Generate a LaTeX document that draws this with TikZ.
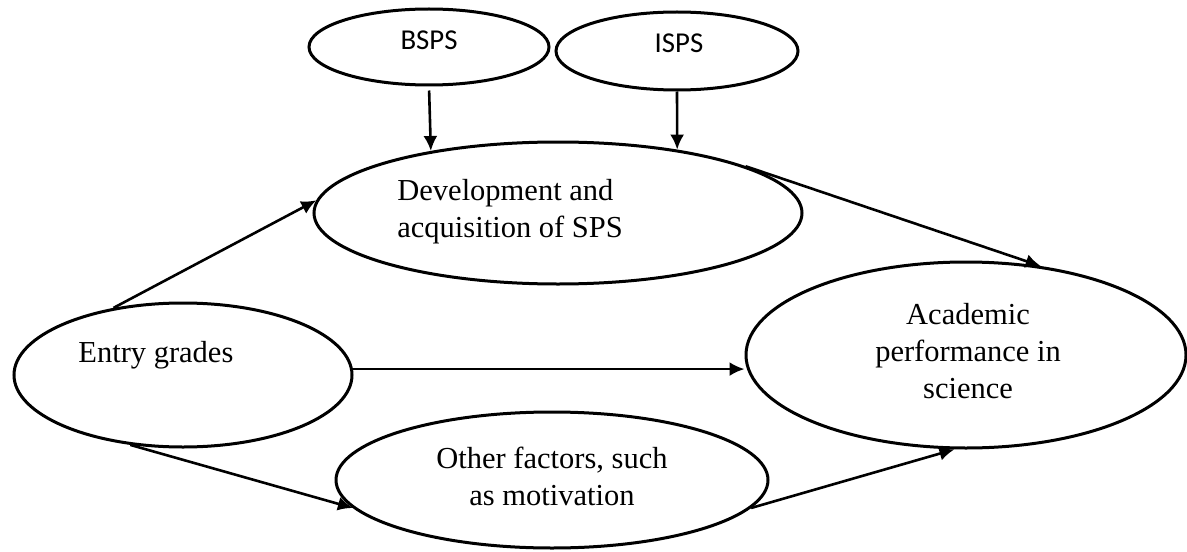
\documentclass[tikz,border=0pt]{standalone}
\usepackage{fontspec}
\setmainfont{Liberation Serif}
\newfontfamily\boxfont{Carlito}
\usetikzlibrary{shapes.geometric,arrows.meta}
\begin{document}
\begin{tikzpicture}
			[
				x                 = 0.5pt,
				y                 = -0.5pt,
				blob/.style       = {draw, ellipse, line width=1.5pt, inner sep=0pt},
				link/.style       = {draw, line width=1.3pt, -{Latex[length=7.5pt,width=7pt]}},
				txt/.style        = {inner sep=0pt, font=\fontsize{15.25}{18.5}\selectfont},
				smalltxt/.style   = {inner sep=0pt, font=\boxfont\fontsize{14.4}{17}\selectfont}
			]
			\useasboundingbox (0,0) rectangle (1187,551);
			% ellipses
			\node [blob, minimum width=120pt, minimum height=38pt] (bsps)  at (429,47)  {};
			\node [blob, minimum width=121pt, minimum height=39pt] (isps)  at (677,51)  {};
			\node [blob, minimum width=244pt, minimum height=71pt] (dev)   at (558,213) {};
			\node [blob, minimum width=169pt, minimum height=72pt] (entry) at (183,375) {};
			\node [blob, minimum width=220pt, minimum height=93pt] (acad)  at (966,355) {};
			\node [blob, minimum width=216pt, minimum height=68pt] (other) at (552,480) {};
			% texts (base = last line)
			\node [smalltxt, anchor=base] (bspstxt) at (429,50) {BSPS};
			\node [smalltxt, anchor=base] (ispstxt) at (679,53) {ISPS};
			\node [txt, anchor=base west, align=left] (devtxt) at (397,237)
				{Development and\\acquisition of SPS};
			\node [txt, anchor=base west] (entrytxt) at (78,362) {Entry grades};
			\node [txt, anchor=base, align=center] (acadtxt) at (968,398)
				{Academic\\performance in\\science};
			\node [txt, anchor=base, align=center] (othertxt) at (552,505)
				{Other factors, such\\as motivation};
			% arrows
			\draw [link, shorten <=2pt] (bsps.south) -- (dev.154);
			\draw [link] (isps.south) -- (dev.28);
			\draw [link] (entry.136) -- (dev.177);
			\draw [link] (entry.2) -- (entry.2 -| acad.west);
			\draw [link] (entry.233) -- (other.188);
			\draw [link] (dev.14) -- (acad.50);
			\draw [link] (other.-8) -- (acad.263);
		\end{tikzpicture}
\end{document}
